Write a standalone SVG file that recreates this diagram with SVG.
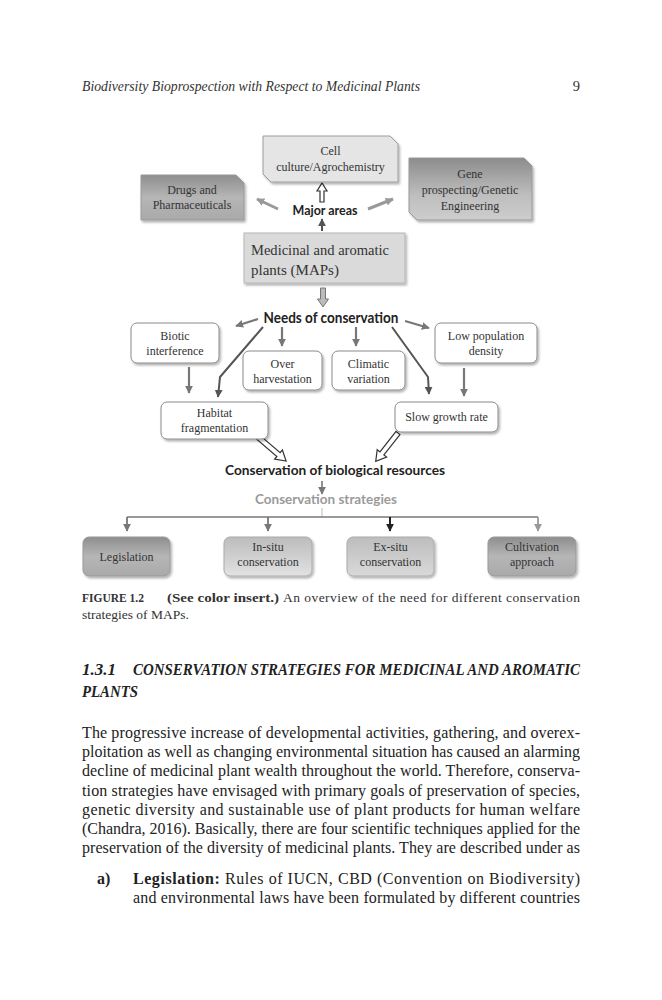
<svg xmlns="http://www.w3.org/2000/svg" width="662" height="1000" viewBox="0 0 662 1000">
<defs>
<style>
.nd{font-family:"Liberation Serif","Times New Roman",serif;font-size:12px;fill:#333;text-anchor:middle}
.bl{font-family:Lato,"Liberation Sans",sans-serif;font-weight:bold;fill:#222;text-anchor:middle}
.body{font-family:"Liberation Serif","Times New Roman",serif;font-size:16px;fill:#222}
.hd{font-family:"Liberation Serif","Times New Roman",serif;font-weight:bold;font-style:italic;font-size:16.5px;fill:#222}
.wb{fill:#fff;stroke:#8a8a8a;stroke-width:1}
.l7{fill:none;stroke:#777;stroke-width:2.2}
.l9{fill:none;stroke:#999;stroke-width:3}
.l4{fill:none;stroke:#555;stroke-width:2}
</style>
<filter id="sh" x="-10%" y="-10%" width="130%" height="140%">
<feDropShadow dx="1.5" dy="2" stdDeviation="1.2" flood-color="#000" flood-opacity="0.3"/>
</filter>
<marker id="a7" viewBox="0 0 10 10" refX="9" refY="5" markerWidth="8" markerHeight="8" markerUnits="userSpaceOnUse" orient="auto"><path d="M0,0 L10,5 L0,10 z" fill="#777"/></marker>
<marker id="a9" viewBox="0 0 10 10" refX="9" refY="5" markerWidth="8" markerHeight="8" markerUnits="userSpaceOnUse" orient="auto"><path d="M0,0 L10,5 L0,10 z" fill="#999"/></marker>
<marker id="a4" viewBox="0 0 10 10" refX="9" refY="5" markerWidth="8" markerHeight="8" markerUnits="userSpaceOnUse" orient="auto"><path d="M0,0 L10,5 L0,10 z" fill="#555"/></marker>
<marker id="a2" viewBox="0 0 10 10" refX="9" refY="5" markerWidth="8" markerHeight="8" markerUnits="userSpaceOnUse" orient="auto"><path d="M0,0 L10,5 L0,10 z" fill="#222"/></marker>
<linearGradient id="gD" x1="0" y1="0" x2="0" y2="1"><stop offset="0" stop-color="#8e8e8e"/><stop offset="0.5" stop-color="#b6b6b6"/><stop offset="1" stop-color="#a9a9a9"/></linearGradient>
<linearGradient id="gG" x1="0" y1="0" x2="0" y2="1"><stop offset="0" stop-color="#8c8c8c"/><stop offset="0.6" stop-color="#bebebe"/><stop offset="1" stop-color="#cdcdcd"/></linearGradient>
<linearGradient id="gL" x1="0" y1="0" x2="0" y2="1"><stop offset="0" stop-color="#bcbcbc"/><stop offset="1" stop-color="#e2e2e2"/></linearGradient>
<linearGradient id="gM" x1="0" y1="0" x2="0" y2="1"><stop offset="0" stop-color="#bdbdbd"/><stop offset="1" stop-color="#d9d9d9"/></linearGradient>
</defs>
<rect width="662" height="1000" fill="#fff"/>

<!-- page header -->
<text x="82" y="91" font-family="Liberation Serif, serif" font-style="italic" font-size="14.5" fill="#333" textLength="338" lengthAdjust="spacingAndGlyphs">Biodiversity Bioprospection with Respect to Medicinal Plants</text>
<text x="580" y="91" font-family="Liberation Serif, serif" font-size="14.5" fill="#333" text-anchor="end">9</text>

<!-- connectors -->
<g id="connectors">
<path class="l9" d="M278,209 L257,199" marker-end="url(#a9)"/>
<path class="l9" d="M368,209 L393,199" marker-end="url(#a9)"/>
<path class="l4" d="M322,231 L322,219" marker-end="url(#a4)"/>
<polygon transform="translate(322,202) rotate(-90)" points="0,-2 11,-2 11,-5 19,0 11,5 11,2 0,2" fill="#fff" stroke="#333" stroke-width="1.2"/>
<polygon transform="translate(323,288) rotate(90)" points="0,-2.5 11,-2.5 11,-5.5 19,0 11,5.5 11,2.5 0,2.5" fill="#bbb" stroke="#777" stroke-width="1"/>
<path class="l7" d="M258,319 L236,326" marker-end="url(#a7)"/>
<path class="l7" d="M405,321 L429,328" marker-end="url(#a7)"/>
<path class="l7" d="M282,327 L282,346" marker-end="url(#a7)"/>
<path class="l7" d="M356,327 L356,346" marker-end="url(#a7)"/>
<path class="l4" d="M263,327 L220,377 L218,397" marker-end="url(#a4)"/>
<path class="l4" d="M392,327 L428,377 L429,394" marker-end="url(#a4)"/>
<path class="l7" d="M189,367 L189,393" marker-end="url(#a7)"/>
<path class="l7" d="M464,368 L464,396" marker-end="url(#a7)"/>
<polygon transform="translate(258,437) rotate(40.6)" points="0,-2.5 27,-2.5 27,-6 37,0 27,6 27,2.5 0,2.5" fill="#fff" stroke="#333" stroke-width="1.2"/>
<polygon transform="translate(398,433) rotate(128.2)" points="0,-2.5 26,-2.5 26,-6 36,0 26,6 26,2.5 0,2.5" fill="#fff" stroke="#333" stroke-width="1.2"/>
<path d="M322,481 L322,494" fill="none" stroke="#777" stroke-width="1.6" marker-end="url(#a7)"/>
<path d="M322,508 L322,517" fill="none" stroke="#bbb" stroke-width="1"/>
<path d="M127,517 H538" fill="none" stroke="#777" stroke-width="1.6"/>
<path d="M127,517 V531" fill="none" stroke="#777" stroke-width="1.8" marker-end="url(#a7)"/>
<path d="M268,517 V531" fill="none" stroke="#777" stroke-width="1.8" marker-end="url(#a7)"/>
<path d="M390,517 V531" fill="none" stroke="#222" stroke-width="2" marker-end="url(#a2)"/>
<path d="M538,517 V531" fill="none" stroke="#999" stroke-width="1.8" marker-end="url(#a9)"/>
</g>

<!-- nodes -->
<g id="cell">
<path d="M263,136 H390 L398,144 V182 H271 L263,174 Z" fill="#e5e5e5" stroke="#9c9c9c" filter="url(#sh)"/>
<text class="nd" x="330.5" y="155">Cell</text>
<text class="nd" x="330.5" y="171">culture/Agrochemistry</text>
</g>
<g id="drugs">
<path d="M141,175 H236 L244,183 V220 H141 Z" fill="url(#gD)" stroke="#999" filter="url(#sh)"/>
<text class="nd" x="192" y="194">Drugs and</text>
<text class="nd" x="192" y="209">Pharmaceuticals</text>
</g>
<g id="gene">
<path d="M409,158 H524 L532,166 V220 H417 L409,212 Z" fill="url(#gG)" stroke="#999" filter="url(#sh)"/>
<text class="nd" x="470" y="178">Gene</text>
<text class="nd" x="470" y="194">prospecting/Genetic</text>
<text class="nd" x="470" y="210">Engineering</text>
</g>
<g id="major">
<text class="bl" x="325" y="215" font-size="13" textLength="65" lengthAdjust="spacingAndGlyphs">Major areas</text>
</g>
<g id="maps">
<rect x="244" y="233" width="161" height="50" fill="#dadada" stroke="#b5b5b5" filter="url(#sh)"/>
<text x="251" y="255" font-family="Liberation Serif, serif" font-size="15" fill="#333" textLength="138" lengthAdjust="spacingAndGlyphs">Medicinal and aromatic</text>
<text x="251" y="275" font-family="Liberation Serif, serif" font-size="15" fill="#333">plants (MAPs)</text>
</g>
<g id="needs">
<text class="bl" x="331" y="323" font-size="14.5" textLength="135" lengthAdjust="spacingAndGlyphs">Needs of conservation</text>
</g>
<g id="biotic">
<rect class="wb" x="131" y="323" width="88" height="40" rx="6" filter="url(#sh)"/>
<text class="nd" x="175" y="340">Biotic</text>
<text class="nd" x="175" y="355">interference</text>
</g>
<g id="over">
<rect class="wb" x="243" y="351" width="79" height="39" rx="6" filter="url(#sh)"/>
<text class="nd" x="282.5" y="368">Over</text>
<text class="nd" x="282.5" y="383">harvestation</text>
</g>
<g id="climatic">
<rect class="wb" x="332" y="351" width="73" height="39" rx="6" filter="url(#sh)"/>
<text class="nd" x="368.5" y="368">Climatic</text>
<text class="nd" x="368.5" y="383">variation</text>
</g>
<g id="lowpop">
<rect class="wb" x="435" y="323" width="102" height="40" rx="6" filter="url(#sh)"/>
<text class="nd" x="486" y="340">Low population</text>
<text class="nd" x="486" y="355">density</text>
</g>
<g id="habitat">
<rect class="wb" x="161" y="402" width="107" height="37" rx="6" filter="url(#sh)"/>
<text class="nd" x="214.5" y="417">Habitat</text>
<text class="nd" x="214.5" y="432">fragmentation</text>
</g>
<g id="slow">
<rect class="wb" x="395" y="402" width="103" height="30" rx="6" filter="url(#sh)"/>
<text class="nd" x="446.5" y="421">Slow growth rate</text>
</g>
<g id="consbio">
<text class="bl" x="335" y="475" font-size="14" fill="#333" textLength="220" lengthAdjust="spacingAndGlyphs">Conservation of biological resources</text>
</g>
<g id="consstrat">
<text class="bl" x="326" y="504" font-size="13.5" style="fill:#9a9a9a" textLength="142" lengthAdjust="spacingAndGlyphs">Conservation strategies</text>
</g>
<g id="legislation">
<rect x="83" y="537" width="87" height="39" rx="6" fill="url(#gD)" stroke="#999" filter="url(#sh)"/>
<text class="nd" x="126.5" y="561">Legislation</text>
</g>
<g id="insitu">
<rect x="224" y="537" width="88" height="39" rx="6" fill="url(#gL)" stroke="#aaa" filter="url(#sh)"/>
<text class="nd" x="268" y="551">In-situ</text>
<text class="nd" x="268" y="566">conservation</text>
</g>
<g id="exsitu">
<rect x="347" y="537" width="87" height="39" rx="6" fill="url(#gM)" stroke="#aaa" filter="url(#sh)"/>
<text class="nd" x="390.5" y="551">Ex-situ</text>
<text class="nd" x="390.5" y="566">conservation</text>
</g>
<g id="cultivation">
<rect x="488" y="537" width="88" height="39" rx="6" fill="url(#gD)" stroke="#999" filter="url(#sh)"/>
<text class="nd" x="532" y="551">Cultivation</text>
<text class="nd" x="532" y="566">approach</text>
</g>

<!-- caption -->
<text x="82" y="602" font-family="Liberation Serif, serif" font-weight="bold" font-size="13.5" fill="#333" textLength="62" lengthAdjust="spacingAndGlyphs">FIGURE 1.2</text>
<text x="167" y="602" font-family="Liberation Serif, serif" font-weight="bold" font-size="13.5" fill="#333" textLength="112" lengthAdjust="spacingAndGlyphs">(See color insert.)</text>
<text x="283" y="602" font-family="Liberation Serif, serif" font-size="13.5" fill="#333" textLength="297" lengthAdjust="spacing">An overview of the need for different conservation</text>
<text x="82" y="619" font-family="Liberation Serif, serif" font-size="13.5" fill="#333">strategies of MAPs.</text>

<!-- heading -->
<text class="hd" x="82" y="675" textLength="34" lengthAdjust="spacingAndGlyphs">1.3.1</text>
<text class="hd" x="133" y="675" textLength="447" lengthAdjust="spacingAndGlyphs">CONSERVATION STRATEGIES FOR MEDICINAL AND AROMATIC</text>
<text class="hd" x="82" y="697" textLength="56" lengthAdjust="spacingAndGlyphs">PLANTS</text>

<!-- body -->
<text class="body" x="82" y="738" textLength="498" lengthAdjust="spacing">The progressive increase of developmental activities, gathering, and overex-</text>
<text class="body" x="82" y="757.2" textLength="498" lengthAdjust="spacing">ploitation as well as changing environmental situation has caused an alarming</text>
<text class="body" x="82" y="776.4" textLength="498" lengthAdjust="spacing">decline of medicinal plant wealth throughout the world. Therefore, conserva-</text>
<text class="body" x="82" y="795.6" textLength="498" lengthAdjust="spacing">tion strategies have envisaged with primary goals of preservation of species,</text>
<text class="body" x="82" y="814.8" textLength="498" lengthAdjust="spacing">genetic diversity and sustainable use of plant products for human welfare</text>
<text class="body" x="82" y="834" textLength="498" lengthAdjust="spacing">(Chandra, 2016). Basically, there are four scientific techniques applied for the</text>
<text class="body" x="82" y="853.2" textLength="498" lengthAdjust="spacing">preservation of the diversity of medicinal plants. They are described under as</text>
<text class="body" x="97" y="883.5" font-weight="bold">a)</text>
<text class="body" x="133" y="883.5" textLength="447" lengthAdjust="spacing"><tspan font-weight="bold">Legislation:</tspan> Rules of IUCN, CBD (Convention on Biodiversity)</text>
<text class="body" x="133" y="902.7" textLength="447" lengthAdjust="spacing">and environmental laws have been formulated by different countries</text>
</svg>
